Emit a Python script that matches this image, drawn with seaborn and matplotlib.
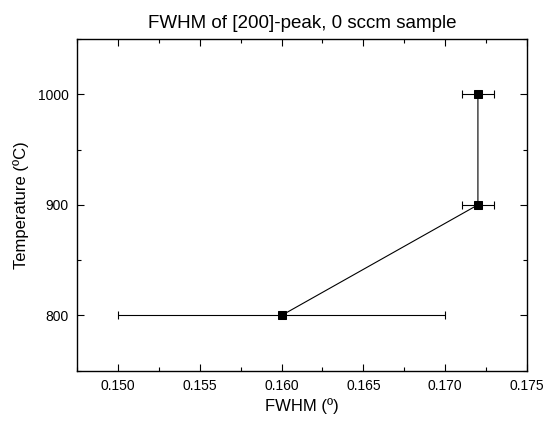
import matplotlib
matplotlib.use("Agg")
import matplotlib.pyplot as plt
import seaborn as sns
import pandas as pd
from matplotlib.ticker import MultipleLocator

fwhm = [0.160, 0.172, 0.172]
temperature = [800, 900, 1000]
fwhm_err = [0.010, 0.001, 0.001]

df = pd.DataFrame({"FWHM": fwhm, "Temperature": temperature, "err": fwhm_err})

sns.set_theme(style="ticks")
plt.rcParams["font.family"] = ["Liberation Sans", "DejaVu Sans"]
plt.rcParams["text.color"] = "black"
plt.rcParams["axes.labelcolor"] = "black"

fig = plt.figure(figsize=(5.48, 4.24), dpi=100)
ax = fig.add_axes([0.1405, 0.1257, 0.8212, 0.7823])

ax.errorbar(df["FWHM"], df["Temperature"], xerr=df["err"], fmt="none",
            ecolor="black", elinewidth=0.8, capsize=3, capthick=0.8, zorder=2)
sns.lineplot(data=df, x="FWHM", y="Temperature", sort=False, estimator=None,
             ax=ax, color="black", linewidth=0.8, marker="s", markersize=6,
             markeredgecolor="black", markerfacecolor="black", zorder=3)

ax.set_xlim(0.1475, 0.175)
ax.set_ylim(750, 1050)
ax.xaxis.set_major_locator(MultipleLocator(0.005))
ax.xaxis.set_minor_locator(MultipleLocator(0.0025))
ax.yaxis.set_major_locator(MultipleLocator(100))
ax.yaxis.set_minor_locator(MultipleLocator(50))
ax.xaxis.set_major_formatter(matplotlib.ticker.FormatStrFormatter("%.3f"))

ax.tick_params(which="both", direction="in", top=True, right=True,
               labelsize=10, colors="black", width=0.8)
ax.tick_params(which="major", length=5, pad=6)
ax.tick_params(which="minor", length=3)
for s in ax.spines.values():
    s.set_visible(True)
    s.set_linewidth(1.0)
    s.set_color("black")

ax.set_xlabel("FWHM (º)", fontsize=12, labelpad=4, color="black")
ax.set_ylabel("Temperature (ºC)", fontsize=12, labelpad=6, color="black")
ax.set_title("FWHM of [200]-peak, 0 sccm sample", fontsize=13.5, pad=8,
             color="black")

fig.savefig("out.png", dpi=100)
